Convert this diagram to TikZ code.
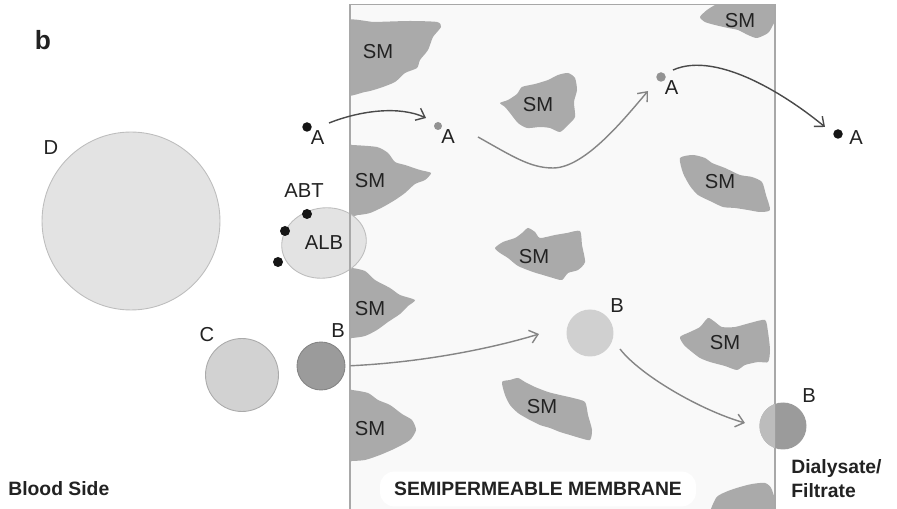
\documentclass[tikz,border=0pt]{standalone}
\usepackage{fontspec}
\setmainfont{Liberation Sans}
\usetikzlibrary{arrows.meta, positioning, shapes.geometric}

\definecolor{ink}{HTML}{222222}
\definecolor{membranefill}{HTML}{F9F9F9}
\definecolor{membraneline}{HTML}{A8A8A8}
\definecolor{smgray}{HTML}{AAAAAA}
\definecolor{bigfill}{HTML}{E3E3E3}
\definecolor{bigline}{HTML}{BDBDBD}
\definecolor{cfill}{HTML}{D2D2D2}
\definecolor{bdark}{HTML}{9B9B9B}
\definecolor{blight}{HTML}{D0D0D0}
\definecolor{bmid}{HTML}{BCBCBC}
\definecolor{flowgray}{HTML}{858585}
\definecolor{flowdark}{HTML}{4A4A4A}
\definecolor{dotblack}{HTML}{151515}
\definecolor{dotgray}{HTML}{939393}

\tikzset{
  particle/.style={circle, inner sep=0pt, line width=0.5pt},
  solute/.style={circle, inner sep=0pt, minimum size=0.19cm, fill=#1},
  txt/.style={font=\fontsize{11.5}{13}\selectfont, text=ink, inner sep=0pt},
  sidetxt/.style={font=\bfseries\fontsize{11}{14.2}\selectfont, text=ink, inner sep=0pt},
  flow/.style={-{Straight Barb[length=4.5pt, width=7.5pt]}, line width=0.8pt, draw=#1},
  flow/.default=flowgray
}

\begin{document}
\begin{tikzpicture}[x=0.02cm, y=-0.02cm]
\useasboundingbox (0,0) rectangle (897,509);

% membrane body
\fill[membranefill] (350,4.5) rectangle (775,515);

% solid matter (SM) patches, kept inside the membrane
\begin{scope}
  \clip (350,4.5) rectangle (775,515);
  \fill[smgray] plot[smooth cycle, tension=0.4] coordinates {(340,23) (375,22) (410,21) (437,22) (441,27) (433,37) (428,50) (420,60) (417,68) (405,73) (395,82) (380,88) (365,92) (340,93)};
  \fill[smgray] plot[smooth cycle, tension=0.4] coordinates {(340,145) (352,145) (377,147) (388,153) (395,162) (405,165) (420,170) (431,173) (425,180) (415,184) (405,193) (395,200) (383,207) (370,213) (358,215) (340,215)};
  \fill[smgray] plot[smooth cycle, tension=0.4] coordinates {(340,268) (352,268) (365,271) (375,280) (390,288) (400,295) (415,300) (408,306) (400,314) (388,322) (377,330) (365,336) (352,338) (340,338)};
  \fill[smgray] plot[smooth cycle, tension=0.4] coordinates {(340,390) (352,390) (368,393) (378,400) (390,405) (402,414) (412,420) (416,430) (410,440) (396,448) (380,455) (365,460) (352,461) (340,461)};
  \fill[smgray] plot[smooth cycle, tension=0.4] coordinates {(500,103) (508,100) (517,94) (522,87) (535,84) (548,80) (558,75) (568,73) (575,78) (577,90) (574,102) (575,117) (568,125) (560,132) (550,128) (540,127) (527,128) (518,123) (510,113) (505,107)};
  \fill[smgray] plot[smooth cycle, tension=0.4] coordinates {(495,248) (503,242) (515,238) (522,233) (528,228) (535,232) (540,238) (555,235) (567,233) (580,231) (582,245) (585,262) (578,270) (568,273) (562,280) (553,278) (543,275) (533,272) (518,266) (508,258) (500,253)};
  \fill[smgray] plot[smooth cycle, tension=0.4] coordinates {(502,382) (510,380) (518,378) (525,382) (535,387) (548,392) (560,395) (573,398) (585,402) (588,415) (592,430) (590,440) (580,438) (570,435) (560,432) (550,428) (540,425) (528,419) (518,413) (510,405) (505,395)};
  \fill[smgray] plot[smooth cycle, tension=0.4] coordinates {(700,17) (707,10) (715,5) (725,0) (745,-2) (772,-2) (780,10) (773,25) (768,33) (757,38) (748,35) (738,30) (728,28) (715,25) (705,22)};
  \fill[smgray] plot[smooth cycle, tension=0.4] coordinates {(680,158) (693,155) (705,158) (712,163) (725,168) (740,175) (752,177) (762,182) (766,195) (770,210) (760,212) (748,210) (735,208) (723,207) (710,201) (698,195) (690,186) (683,173)};
  \fill[smgray] plot[smooth cycle, tension=0.4] coordinates {(680,337) (690,332) (700,327) (708,318) (715,322) (722,327) (735,327) (750,323) (765,320) (768,332) (770,350) (768,362) (758,362) (745,365) (737,370) (725,366) (710,362) (700,358) (692,352) (684,345)};
  \fill[smgray] plot[smooth cycle, tension=0.4] coordinates {(712,520) (716,498) (728,491) (740,487) (752,484) (765,483) (772,490) (776,520)};
\end{scope}

% albumin carrier
\node[particle, ellipse, draw=bigline, fill=bigfill, minimum width=1.7cm, minimum height=1.4cm, rotate=10] (alb) at (324,243) {};

% membrane walls
\draw[membraneline, line width=0.6pt] (350,515) |- (775,4.5) -- (775,515);

\node[sidetxt, fill=white, inner xsep=8pt, inner ysep=6pt, rounded corners=8pt] (membrane) at (538,489) {SEMIPERMEABLE MEMBRANE};

% large and middle sized particles
\node[particle, draw=bigline, fill=bigfill, minimum size=3.56cm] (d) at (131,221) {};
\node[particle, draw=bigline!90!black, fill=cfill, minimum size=1.46cm] (c) at (242,375) {};
\node[particle, draw=bdark!85!black, fill=bdark, minimum size=0.96cm] (b1) at (321,366) {};
\node[particle, fill=blight, minimum size=0.94cm] (b2) at (590,333) {};
\node[particle, fill=bdark, minimum size=0.94cm] (b3) at (783,426) {};
\begin{scope}
  \clip (350,4.5) rectangle (775,515);
  \fill[bmid] (b3.center) circle [radius=0.47cm];
\end{scope}

% small solutes
\node[solute=dotblack] (a1) at (307,127) {};
\node[solute=dotgray, minimum size=0.16cm] (a2) at (438,126) {};
\node[solute=dotgray] (a3) at (661,77) {};
\node[solute=dotblack] (a4) at (838,134) {};
\node[solute=dotblack, minimum size=0.2cm] (abt1) at (307,214) {};
\node[solute=dotblack, minimum size=0.2cm] (abt2) at (285,231) {};
\node[solute=dotblack, minimum size=0.2cm] (abt3) at (278,262) {};

% labels
\node[txt, below right=0pt of a1] (a1 label) {A};
\node[txt, below right=0pt of a2] (a2 label) {A};
\node[txt, below right=0pt of a3] (a3 label) {A};
\node[txt, right=0.12cm of a4, yshift=-0.08cm] (a4 label) {A};
\node[txt] (abt label) at (304,191) {ABT};
\node[txt] (alb label) at (324,243) {ALB};
\node[txt] (d label) at (51,148) {D};
\node[txt] (c label) at (207,335) {C};
\node[txt] (b1 label) at (338,331) {B};
\node[txt] (b2 label) at (617,306) {B};
\node[txt] (b3 label) at (809,396) {B};
\node[txt] (sm1) at (378,52) {SM};
\node[txt] (sm2) at (370,181) {SM};
\node[txt] (sm3) at (370,309) {SM};
\node[txt] (sm4) at (370,429) {SM};
\node[txt] (sm5) at (538,105) {SM};
\node[txt] (sm6) at (534,257) {SM};
\node[txt] (sm7) at (542,407) {SM};
\node[txt] (sm8) at (740,21) {SM};
\node[txt] (sm9) at (720,182) {SM};
\node[txt] (sm10) at (725,343) {SM};

\node[font=\bfseries\fontsize{15}{18}\selectfont, text=ink, inner sep=0pt] (panel) at (43,40) {b};
\node[sidetxt, anchor=base west] (blood) at (8,496) {Blood Side};
\node[sidetxt, anchor=base west, align=left] (dialysate) at (791,498) {Dialysate/\\Filtrate};

% flow path ends
\coordinate (a1out) at (329,123);
\coordinate (a2in) at (426,118);
\coordinate (a2out) at (478,137);
\coordinate (a3in) at (648,91);
\coordinate (a3out) at (673,70);
\coordinate (a4in) at (825,127);
\coordinate (b2in) at (539,334);
\coordinate (b2out) at (620,349);
\coordinate (b3in) at (745,423);

% solute flows
\draw[flow=flowdark] (a1out) .. controls (362,110) and (400,106) .. (a2in);
\draw[flow] (a2out) .. controls (512,156) and (530,168) .. (553,168) .. controls (585,168) and (625,118) .. (a3in);
\draw[flow=flowdark] (a3out) .. controls (718,50) and (790,98) .. (a4in);
\draw[flow, shorten <=0.1cm] (b1.east) .. controls (430,362) and (500,346) .. (b2in);
\draw[flow] (b2out) .. controls (640,375) and (700,410) .. (b3in);

\end{tikzpicture}
\end{document}
